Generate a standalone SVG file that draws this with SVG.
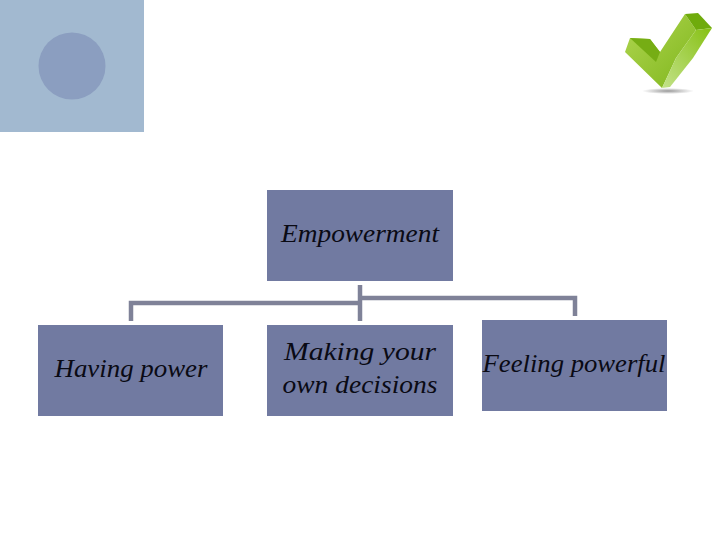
<svg xmlns="http://www.w3.org/2000/svg" width="720" height="540" viewBox="0 0 720 540">
<style>
.box{fill:#717aa1}
.lbl{font-family:"Liberation Serif","DejaVu Serif",serif;font-style:italic;font-size:25px;fill:#0a0a14;text-anchor:middle}
.c{fill:none;stroke:#7f8298;stroke-width:4.5}
</style>
<defs>
<linearGradient id="g1" x1="0" y1="0" x2="1" y2="1"><stop offset="0" stop-color="#b0d651"/><stop offset="1" stop-color="#7fb61c"/></linearGradient>
<linearGradient id="g2" x1="1" y1="0" x2="0" y2="1"><stop offset="0" stop-color="#86c012"/><stop offset="1" stop-color="#c3e28a"/></linearGradient>
<radialGradient id="s"><stop offset="0" stop-color="#999"/><stop offset="1" stop-color="#fff"/></radialGradient>
</defs>
<rect width="720" height="540" fill="#fff"/>
<g id="decor">
<rect x="0" y="0" width="144" height="132" fill="#a2b9d0"/>
<circle cx="72" cy="66" r="33.500" fill="#8b9ec0"/>
</g>
<g id="check">
<ellipse cx="668" cy="91" rx="26" ry="3" fill="url(#s)"/>
<polygon points="625,52 630,38 650,39 660,52 685,14 696,30 676,58 662,88" fill="url(#g1)"/>
<polygon points="685,14 698,13 712,28 696,30" fill="#6fab0c"/>
<polygon points="630,38 650,39 660,52 656,62" fill="#76ad14"/>
<polygon points="696,30 712,28 693,58 670,87 662,88 676,58" fill="url(#g2)"/>
</g>
<g id="connectors">
<path class="c" d="M360 285V321"/>
<path class="c" d="M358 303H131V321"/>
<path class="c" d="M362 298H575V316"/>
</g>
<g id="n-empowerment">
<rect class="box" x="267" y="190" width="186" height="91"/>
<text class="lbl" x="360" y="242" textLength="158" lengthAdjust="spacingAndGlyphs">Empowerment</text>
</g>
<g id="n-having">
<rect class="box" x="38" y="325" width="185" height="91"/>
<text class="lbl" x="131" y="377" textLength="153" lengthAdjust="spacingAndGlyphs">Having power</text>
</g>
<g id="n-making">
<rect class="box" x="267" y="325" width="186" height="91"/>
<text class="lbl" x="360" y="360" textLength="152" lengthAdjust="spacingAndGlyphs">Making your</text>
<text class="lbl" x="360" y="393" textLength="155" lengthAdjust="spacingAndGlyphs">own decisions</text>
</g>
<g id="n-feeling">
<rect class="box" x="482" y="320" width="185" height="91"/>
<text class="lbl" x="574" y="372" textLength="183" lengthAdjust="spacingAndGlyphs">Feeling powerful</text>
</g>
</svg>
